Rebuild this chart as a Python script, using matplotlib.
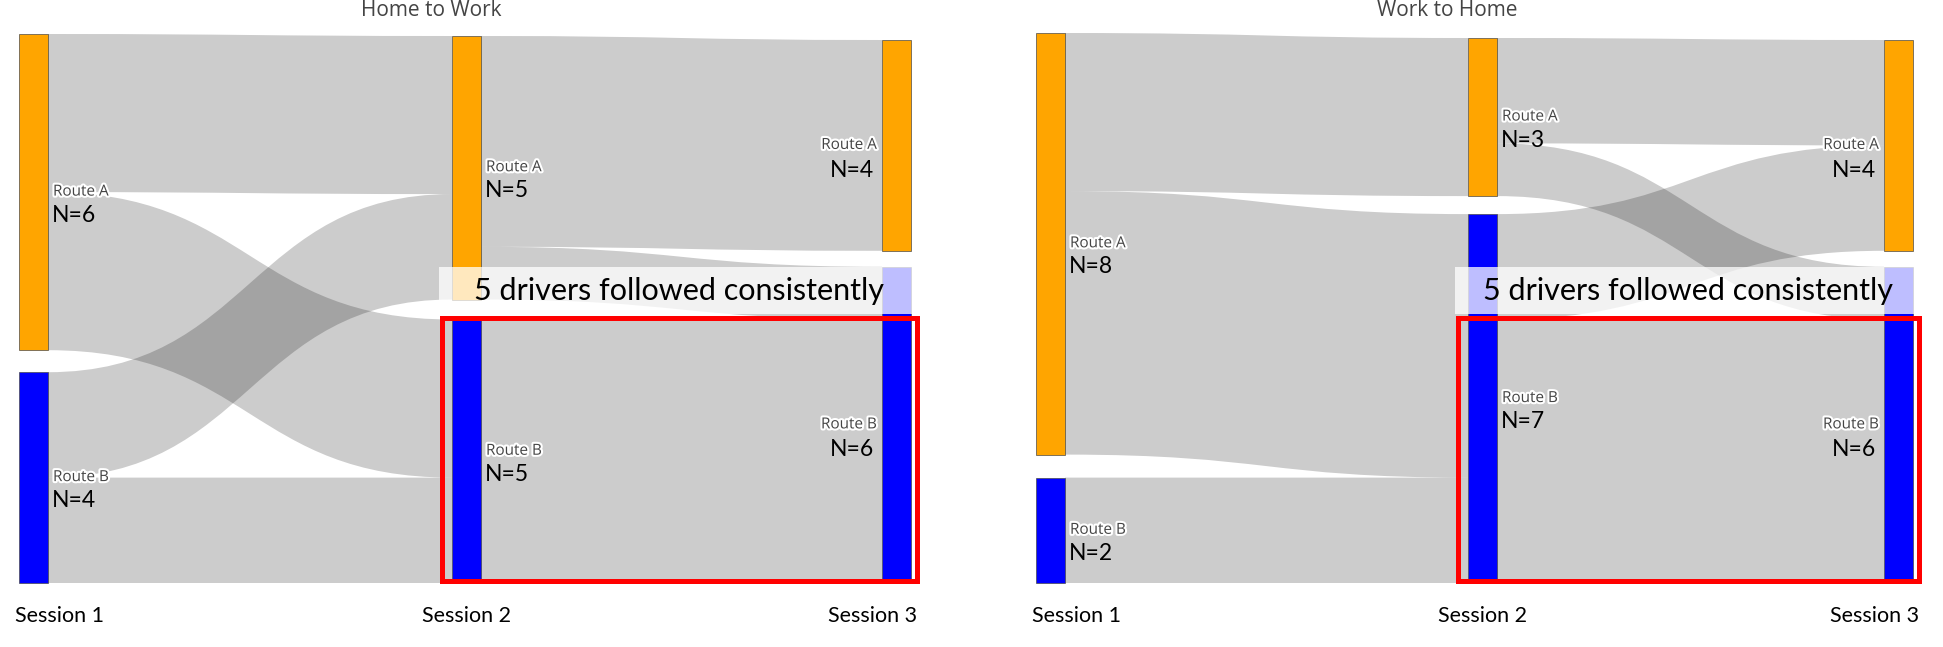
import matplotlib.pyplot as plt
from matplotlib.path import Path
from matplotlib.patches import PathPatch, Rectangle
import matplotlib.patheffects as pe

titles = ["Home to Work", "Work to Home"]
sessions = ["Session 1", "Session 2", "Session 3"]
routes = ["Route A", "Route B"]
route_colors = ["#FFA500", "#0000FF"]

# drivers moving between sessions: rows = from Route A/B, cols = to Route A/B
hw_s1_s2 = [[3, 3], [2, 2]]
hw_s2_s3 = [[4, 1], [0, 5]]
wh_s1_s2 = [[3, 5], [0, 2]]
wh_s2_s3 = [[2, 1], [2, 5]]
flows = [[hw_s1_s2, hw_s2_s3], [wh_s1_s2, wh_s2_s3]]
consistent = [5, 5]
note = "5 drivers followed consistently"

# layout (pixels, y down)
W, H = 1943, 647
col_x = [[19, 452, 882], [1036, 1468, 1884]]
col_top = [[34, 36, 40], [33, 38, 40]]
title_x = [431, 1447]
node_w = 29
bottom = 583
unit = 52.7

fig = plt.figure(figsize=(W / 100, H / 100), dpi=100)
ax = fig.add_axes([0, 0, 1, 1])
ax.set_xlim(0, W)
ax.set_ylim(H, 0)
ax.axis('off')

ann_font = ['Lato', 'DejaVu Sans']
lab_font = ['Open Sans', 'DejaVu Sans']
halo = [pe.withStroke(linewidth=3, foreground='white')]

for p in range(2):
    m1, m2 = flows[p]
    # node values per session column
    vals = [[sum(r) for r in m1],
            [m1[0][j] + m1[1][j] for j in range(2)],
            [m2[0][j] + m2[1][j] for j in range(2)]]
    ys = []
    for c in range(3):
        tot = sum(vals[c]) * unit
        pad = (bottom - col_top[p][c] - tot) / (len(vals[c]) - 1)
        y = col_top[p][c]
        col = []
        for v in vals[c]:
            col.append((y, y + v * unit))
            y = y + v * unit + pad
        ys.append(col)

    # links
    for c, m in enumerate([m1, m2]):
        out_off = [n[0] for n in ys[c]]
        in_off = [n[0] for n in ys[c + 1]]
        x0 = col_x[p][c] + node_w
        x1 = col_x[p][c + 1]
        xm = (x0 + x1) / 2
        for i in range(2):
            for j in range(2):
                v = m[i][j]
                if v == 0:
                    continue
                h = v * unit
                s0, t0 = out_off[i], in_off[j]
                s1, t1 = s0 + h, t0 + h
                verts = [(x0, s0), (xm, s0), (xm, t0), (x1, t0),
                         (x1, t1), (xm, t1), (xm, s1), (x0, s1), (x0, s0)]
                codes = [Path.MOVETO, Path.CURVE4, Path.CURVE4, Path.CURVE4,
                         Path.LINETO, Path.CURVE4, Path.CURVE4, Path.CURVE4,
                         Path.CLOSEPOLY]
                ax.add_patch(PathPatch(Path(verts, codes), fc=(0, 0, 0, 0.2),
                                       lw=0, zorder=1))
                out_off[i] += h
                in_off[j] += h

    # nodes and labels
    for c in range(3):
        for k, (y0, y1) in enumerate(ys[c]):
            x = col_x[p][c]
            ax.add_patch(Rectangle((x, y0), node_w, y1 - y0, fc=route_colors[k],
                                   ec=(0.27, 0.27, 0.27, 0.8), lw=0.6, zorder=2))
            yc = (y0 + y1) / 2
            n_txt = "N=%d" % vals[c][k]
            if c < 2:
                ax.text(x + node_w + 5, yc, routes[k], ha='left', va='center',
                        fontsize=11, color='#444', family=lab_font,
                        path_effects=halo, zorder=5)
                ax.text(x + node_w + 4, yc + 23, n_txt, ha='left', va='center',
                        fontsize=16.5, color='black', family=ann_font, zorder=5)
            else:
                ax.text(x - 5, yc, routes[k], ha='right', va='center',
                        fontsize=11, color='#444', family=lab_font,
                        path_effects=halo, zorder=5)
                ax.text(x - 8, yc + 25, n_txt, ha='right', va='center',
                        fontsize=16.5, color='black', family=ann_font, zorder=5)

    # session labels
    ax.text(col_x[p][0] - 4, 616, sessions[0], ha='left', va='center',
            fontsize=15.5, family=ann_font)
    ax.text(col_x[p][1] + node_w / 2, 616, sessions[1], ha='center', va='center',
            fontsize=15.5, family=ann_font)
    ax.text(col_x[p][2] + node_w + 6, 616, sessions[2], ha='right', va='center',
            fontsize=15.5, family=ann_font)

    ax.text(title_x[p], 11, titles[p], ha='center', va='center', fontsize=15,
            color='#444', family=lab_font)

    # highlight of drivers who kept route B
    bx0 = col_x[p][1] - 10.5
    bx1 = col_x[p][2] + node_w + 5.5
    by0 = bottom - consistent[p] * unit - 1.5
    ax.add_patch(Rectangle((bx0, by0), bx1 - bx0, bottom - 2.5 - by0, fill=False,
                           ec='red', lw=3.6, zorder=6))
    ax.add_patch(Rectangle((bx0 - 2.5, by0 - 51), bx1 - bx0 + 5, 47,
                           fc=(1, 1, 1, 0.75), lw=0, zorder=4))
    ax.text((bx0 + bx1) / 2, by0 - 27, note, ha='center', va='center',
            fontsize=22, family=ann_font, zorder=7)

fig.savefig('out.png', dpi=100)
